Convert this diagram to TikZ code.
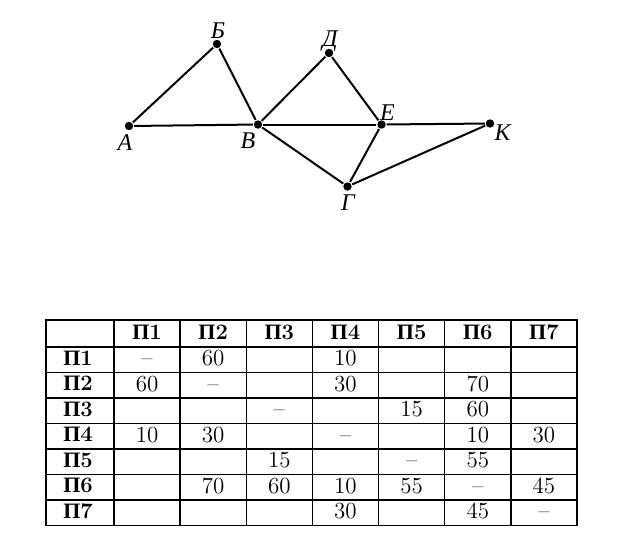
\documentclass[tikz,border=0pt]{standalone}
\usepackage{fontspec}
\usepackage{tikz}
\newfontfamily\cyr{Liberation Serif}

\begin{document}
\begin{tikzpicture}[x=0.5pt,y=-0.5pt,line width=1pt,
  dot/.style={circle,fill=black,inner sep=0pt,minimum size=4.2pt},
  lbl/.style={inner sep=0pt,font=\cyr\itshape\fontsize{12}{12}\selectfont},
  cell/.style={anchor=base,inner sep=0pt,font=\fontsize{11.5}{11.5}\selectfont},
  head/.style={anchor=base,inner sep=0pt,font=\fontsize{11}{11}\selectfont\bfseries}]
\useasboundingbox (0,0) rectangle (620,532);
\node[dot] (a) at (129,126) {};
\node[dot] (b) at (217,44) {};
\node[dot] (v) at (258,124.5) {};
\node[dot] (d) at (329,53) {};
\node[dot] (e) at (381.5,124.5) {};
\node[dot] (k) at (490,123.5) {};
\node[dot] (g) at (347.5,186.5) {};
\node[lbl] (la) at (125,143) {А};
\node[lbl] (lb) at (218,31) {Б};
\node[lbl] (lv) at (248,141) {В};
\node[lbl] (ld) at (330,41) {Д};
\node[lbl] (le) at (387.5,112.5) {Е};
\node[lbl] (lk) at (502.5,132.5) {К};
\node[lbl] (lg) at (348,203) {Г};
\path (a) edge (b);
\path (a) edge (v);
\path (b) edge (v);
\path (v) edge (d);
\path (d) edge (e);
\path (v) edge (e);
\path (e) edge (k);
\path (v) edge (g);
\path (g) edge (e);
\path (g) edge (k);
% table
\draw[line width=0.7pt] (46,320) rectangle (577,525.5);
\foreach \j in {0,...,6}
  \draw[line width=0.7pt] ({114+66.14*\j},320) -- ({114+66.14*\j},525.5);
\foreach \i in {0,...,6}
  \draw[line width=0.7pt] (46,{347+25.5*\i}) -- (577,{347+25.5*\i});
\foreach \j in {1,...,7}
  \node[head] (h\j) at ({114+66.14*(\j-0.5)},339.5) {{\cyr П}\j};
\foreach \i in {1,...,7}
  \node[head] (r\i) at (78,{339.5+25.5*\i}) {{\cyr П}\i};
\foreach \i in {1,...,7}
  \node[cell] (c\i\i) at ({114+66.14*(\i-0.5)},{340+25.5*\i}) {\textendash};
\foreach \i/\j/\v in {1/2/60,1/4/10,2/1/60,2/4/30,2/6/70,3/5/15,3/6/60,
  4/1/10,4/2/30,4/6/10,4/7/30,5/3/15,5/6/55,6/2/70,6/3/60,6/4/10,6/5/55,
  6/7/45,7/4/30,7/6/45}
  \node[cell] (c\i\j) at ({114+66.14*(\j-0.5)},{340+25.5*\i}) {\v};
\end{tikzpicture}
\end{document}
